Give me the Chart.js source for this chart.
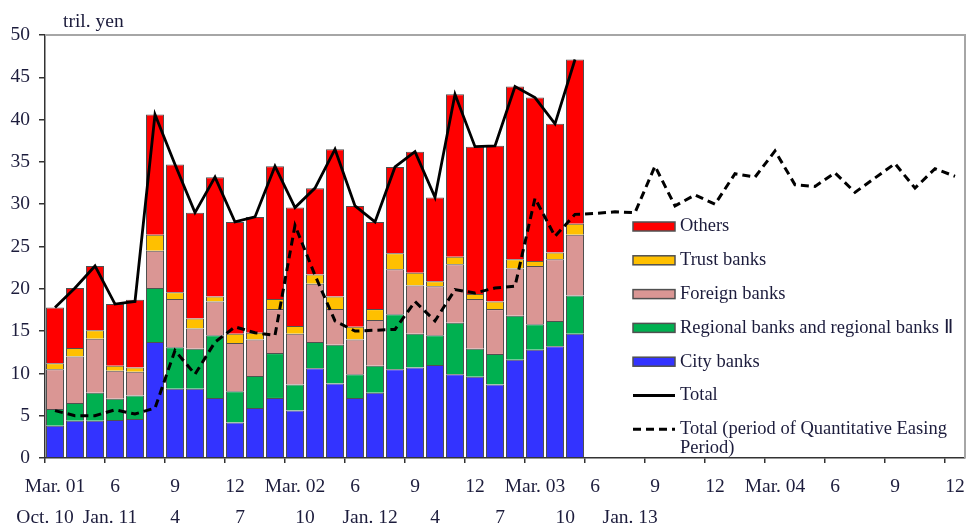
<!DOCTYPE html>
<html>
<head>
<meta charset="utf-8">
<title>Current account balances by type of bank</title>
<script src="https://cdn.jsdelivr.net/npm/chart.js@4.4.1/dist/chart.umd.min.js"></script>
<style>
    html, body { margin: 0; padding: 0; background: #ffffff; }
    canvas { display: block; }
</style>
</head>
<body>
<canvas id="balanceChart" width="968" height="526"></canvas>
<script>
// Monthly categories, Mar. 2001 - Dec. 2004 (Quantitative Easing period)
const months = [
    '2001-03', '2001-04', '2001-05', '2001-06', '2001-07', '2001-08', '2001-09', '2001-10', '2001-11', '2001-12',
    '2002-01', '2002-02', '2002-03', '2002-04', '2002-05', '2002-06', '2002-07', '2002-08', '2002-09', '2002-10', '2002-11', '2002-12',
    '2003-01', '2003-02', '2003-03', '2003-04', '2003-05', '2003-06', '2003-07', '2003-08', '2003-09', '2003-10', '2003-11', '2003-12',
    '2004-01', '2004-02', '2004-03', '2004-04', '2004-05', '2004-06', '2004-07', '2004-08', '2004-09', '2004-10', '2004-11', '2004-12'
];

// Tick labels: upper row (QE period), lower row (Oct. 2010 - Jan. 2013)
const topTicks = ['Mar. 01', '6', '9', '12', 'Mar. 02', '6', '9', '12', 'Mar. 03', '6', '9', '12', 'Mar. 04', '6', '9', '12'];
const bottomTicks = ['Oct. 10', 'Jan. 11', '4', '7', '10', 'Jan. 12', '4', '7', '10', 'Jan. 13'];

// Oct. 2010 - Dec. 2012, tril. yen
const cityBanks = [3.8, 4.4, 4.4, 4.5, 4.6, 13.7, 8.2, 8.2, 7.1, 4.2, 5.9, 7.1, 5.6, 10.6, 8.8, 7.1, 7.7, 10.5, 10.7, 11.0, 9.9, 9.6, 8.7, 11.6, 12.8, 13.2, 14.7];
const regionalBanks = [2.0, 2.1, 3.3, 2.5, 2.8, 6.4, 4.9, 4.7, 7.4, 3.7, 3.8, 5.3, 3.1, 3.1, 4.6, 2.8, 3.2, 6.5, 4.0, 3.5, 6.1, 3.3, 3.6, 5.2, 3.0, 3.0, 4.5];
const foreignBanks = [4.7, 5.5, 6.4, 3.3, 2.8, 4.4, 5.7, 2.4, 4.0, 5.7, 4.3, 5.2, 6.0, 6.9, 4.2, 4.1, 5.4, 5.3, 5.7, 5.8, 6.9, 5.9, 5.3, 5.6, 6.9, 7.3, 7.2];
const trustBanks = [0.7, 1.0, 1.0, 0.6, 0.5, 1.9, 0.8, 1.2, 0.6, 1.1, 0.8, 1.2, 0.9, 1.1, 1.5, 1.5, 1.3, 1.9, 1.5, 0.6, 0.9, 0.6, 0.9, 1.1, 0.6, 0.8, 1.3];
const otherBanks = [6.6, 7.1, 7.6, 7.3, 8.0, 14.2, 15.1, 12.5, 14.1, 13.2, 13.7, 15.7, 14.0, 10.2, 17.4, 14.3, 10.3, 10.2, 14.3, 9.9, 19.2, 17.4, 18.4, 20.4, 19.3, 15.2, 19.4];
const totalBalance = [17.8, 20.1, 22.7, 18.2, 18.5, 40.6, 34.7, 29.0, 33.2, 27.9, 28.5, 34.5, 29.6, 31.9, 36.5, 29.8, 27.9, 34.4, 36.2, 30.8, 43.0, 36.8, 36.9, 43.9, 42.6, 39.5, 47.1];

// Mar. 2001 - Dec. 2004, tril. yen
const totalQE = [
    5.6, 5.0, 5.0, 5.7, 5.2, 5.9, 12.7, 9.9, 13.7, 15.5,
    14.8, 14.5, 27.5, 21.6, 16.2, 15.0, 15.1, 15.2, 18.5, 16.2, 19.9, 19.5,
    20.1, 20.3, 30.7, 26.2, 28.8, 28.9, 29.1, 29.0, 34.5, 29.8, 31.1, 30.0,
    33.6, 33.2, 36.3, 32.3, 32.1, 33.7, 31.4, 33.1, 34.8, 31.9, 34.2, 33.3
];

document.addEventListener('DOMContentLoaded', function() {
    const TEXT = '#1c1c3c';
    const FONT = '"Liberation Serif", "Times New Roman", serif';
    Chart.defaults.font.family = FONT;
    Chart.defaults.font.size = 19.5;
    Chart.defaults.color = TEXT;

    const barStyle = {
        stack: 'banks',
        order: 2,
        borderColor: '#505050',
        borderWidth: 1,
        barPercentage: 0.9,
        categoryPercentage: 1.0
    };

    // no extra side padding for the bottom axes, the plot runs to the edge
    const noSidePadding = function(height) {
        return function(s) {
            s.height = height;
            s.paddingLeft = 0;
            s.paddingRight = 0;
        };
    };

    // grey frame, unit label and legend drawn inside the plot
    const framePlugin = {
        id: 'framePlugin',
        afterDraw(chart) {
            const ctx = chart.ctx;
            const a = chart.chartArea;
            ctx.save();
            ctx.strokeStyle = '#a6a6a6';
            ctx.lineWidth = 2;
            ctx.beginPath();
            ctx.moveTo(a.left, a.top);
            ctx.lineTo(a.right, a.top);
            ctx.lineTo(a.right, a.bottom);
            ctx.stroke();

            ctx.fillStyle = TEXT;
            ctx.font = '19.5px ' + FONT;
            ctx.textBaseline = 'middle';
            ctx.fillText('tril. yen', a.left + 18, a.top - 13);

            ctx.font = '18.5px ' + FONT;
            const legendOrder = [4, 3, 2, 1, 0, 5, 6];
            const lx = a.left + 588;
            const tx = lx + 47;
            legendOrder.forEach(function(di, k) {
                const ds = chart.data.datasets[di];
                const y = a.top + 191.5 + k * 33.8;
                if (ds.type === 'line') {
                    ctx.strokeStyle = ds.borderColor;
                    ctx.lineWidth = ds.borderWidth;
                    ctx.setLineDash(ds.borderDash || []);
                    ctx.beginPath();
                    ctx.moveTo(lx, y);
                    ctx.lineTo(lx + 42, y);
                    ctx.stroke();
                    ctx.setLineDash([]);
                } else {
                    ctx.fillStyle = ds.backgroundColor;
                    ctx.fillRect(lx, y - 4.5, 42, 9);
                    ctx.strokeStyle = '#505050';
                    ctx.lineWidth = 1.5;
                    ctx.strokeRect(lx, y - 4.5, 42, 9);
                }
                // wrap long labels to the plot edge
                ctx.fillStyle = TEXT;
                const words = ds.label.split(' ');
                let line = '';
                let ly = y;
                words.forEach(function(w) {
                    const test = line ? line + ' ' + w : w;
                    if (ctx.measureText(test).width > a.right - tx - 5 && line) {
                        ctx.fillText(line, tx, ly);
                        line = w;
                        ly += 18.5;
                    } else {
                        line = test;
                    }
                });
                ctx.fillText(line, tx, ly);
            });
            ctx.restore();
        }
    };

    const ctx = document.getElementById('balanceChart').getContext('2d');

    new Chart(ctx, {
        type: 'bar',
        data: {
            labels: months,
            datasets: [
                Object.assign({ label: 'City banks', data: cityBanks, backgroundColor: '#3333ff' }, barStyle),
                Object.assign({ label: 'Regional banks and regional banks \u2161', data: regionalBanks, backgroundColor: '#00b050' }, barStyle),
                Object.assign({ label: 'Foreign banks', data: foreignBanks, backgroundColor: '#da9694' }, barStyle),
                Object.assign({ label: 'Trust banks', data: trustBanks, backgroundColor: '#ffc000' }, barStyle),
                Object.assign({ label: 'Others', data: otherBanks, backgroundColor: '#ff0000' }, barStyle),
                {
                    type: 'line',
                    label: 'Total',
                    data: totalBalance,
                    stack: 'total',
                    order: 1,
                    borderColor: '#000000',
                    borderWidth: 2.8,
                    pointRadius: 0,
                    tension: 0
                },
                {
                    type: 'line',
                    label: 'Total (period of Quantitative Easing Period)',
                    data: totalQE,
                    stack: 'qe',
                    order: 0,
                    borderColor: '#000000',
                    borderWidth: 3,
                    borderDash: [8, 5],
                    pointRadius: 0,
                    tension: 0
                }
            ]
        },
        options: {
            responsive: false,
            animation: false,
            layout: {
                padding: { top: 35, right: 3, left: 0, bottom: 0 }
            },
            plugins: {
                legend: { display: false },
                tooltip: { enabled: false }
            },
            scales: {
                x: {
                    stacked: true,
                    offset: true,
                    grid: {
                        offset: true,
                        drawOnChartArea: false,
                        tickLength: 5,
                        lineWidth: 1.5,
                        color: c => (c.index % 3 === 0 ? '#333333' : 'rgba(0,0,0,0)')
                    },
                    border: { color: '#333333', width: 1.5 },
                    ticks: {
                        autoSkip: false,
                        maxRotation: 0,
                        padding: 12,
                        callback: (v, i) => (i % 3 === 0 ? topTicks[i / 3] : '')
                    },
                    afterFit: noSidePadding(40)
                },
                x2: {
                    type: 'linear',
                    position: 'bottom',
                    weight: 1,
                    offset: false,
                    min: 0,
                    max: 14.15,
                    grid: { display: false, drawTicks: false, offset: false },
                    border: { display: false },
                    ticks: {
                        stepSize: 1,
                        autoSkip: false,
                        maxRotation: 0,
                        padding: 8,
                        callback: v => (bottomTicks[v] !== undefined ? bottomTicks[v] : '')
                    },
                    afterFit: noSidePadding(28)
                },
                y: {
                    stacked: true,
                    min: 0,
                    max: 50,
                    grid: {
                        drawOnChartArea: false,
                        tickLength: 6,
                        lineWidth: 1.5,
                        color: '#333333'
                    },
                    border: { color: '#333333', width: 1.5 },
                    ticks: { stepSize: 5, padding: 9 },
                    afterFit: s => { s.width = 45; }
                }
            }
        },
        plugins: [framePlugin]
    });
});
</script>
</body>
</html>
